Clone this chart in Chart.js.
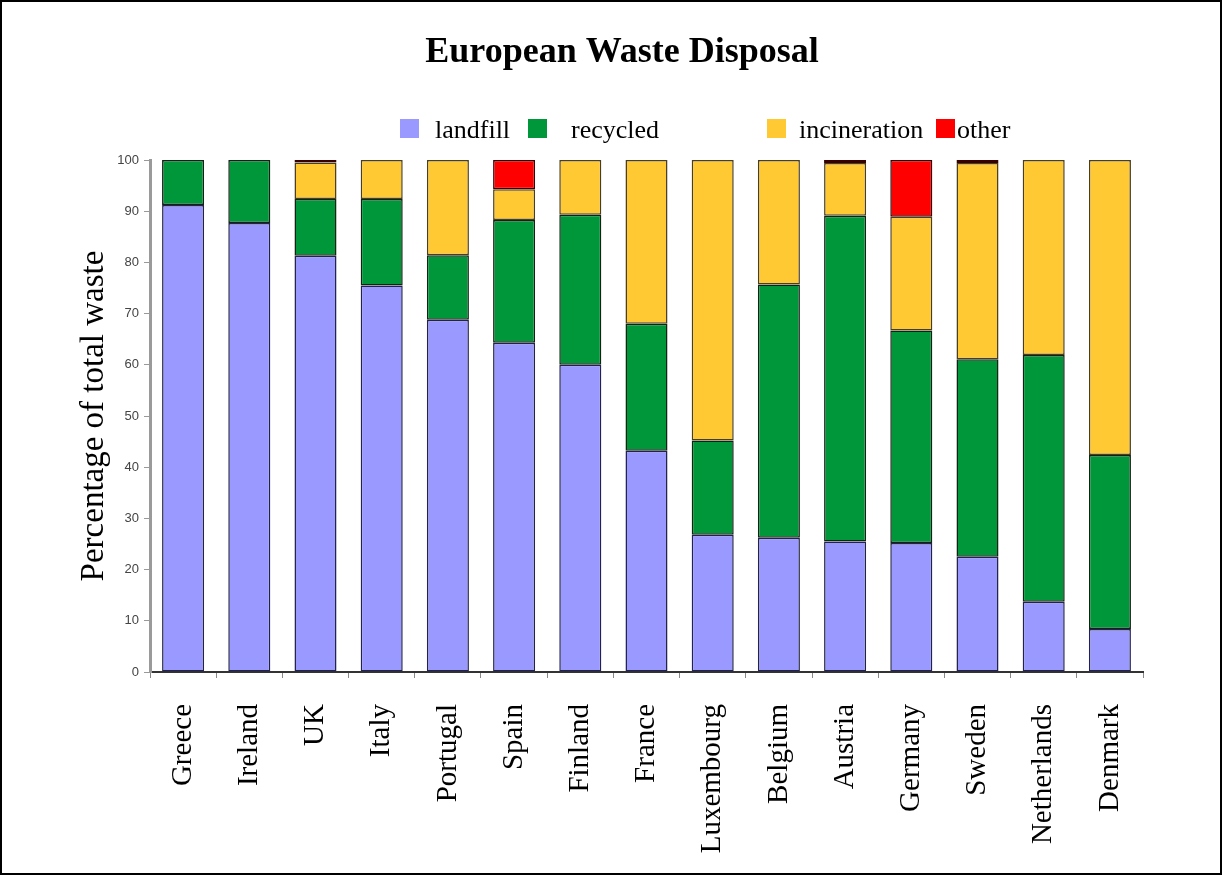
<!DOCTYPE html>
<html>
<head>
<meta charset="utf-8">
<script src="https://cdn.jsdelivr.net/npm/chart.js@4"></script>
<style>
    body { margin: 0; background: #fff; }
    #wrap { width: 1222px; height: 875px; border: 2px solid #000; box-sizing: border-box; }
</style>
</head>
<body>
<div id="wrap"><canvas id="myChart" width="1218" height="871"></canvas></div>
<script>
const countries = ['Greece', 'Ireland', 'UK', 'Italy', 'Portugal', 'Spain', 'Finland', 'France',
    'Luxembourg', 'Belgium', 'Austria', 'Germany', 'Sweden', 'Netherlands', 'Denmark'];
const landfill = [91.2, 87.7, 81.3, 75.5, 68.8, 64.3, 60.0, 43.2, 26.8, 26.2, 25.5, 25.2, 22.5, 13.7, 8.4];
const recycled = [8.8, 12.3, 11.1, 16.9, 12.6, 24.0, 29.3, 24.8, 18.4, 49.5, 63.6, 41.5, 38.6, 48.2, 34.0];
const incineration = [0, 0, 7.1, 7.6, 18.6, 6.0, 10.7, 32.0, 54.8, 24.3, 10.3, 22.2, 38.3, 38.1, 57.6];
const other = [0, 0, 0.5, 0, 0, 5.7, 0, 0, 0, 0, 0.6, 11.1, 0.6, 0, 0];
const yTicks = [0, 10, 20, 30, 40, 50, 60, 70, 80, 90, 100];

const serif = "'Liberation Serif', 'Times New Roman', serif";

// title + legend, drawn by hand because the legend spacing is uneven
const headerPlugin = {
    id: 'header',
    afterDraw(chart) {
        const ctx = chart.ctx;
        ctx.save();
        ctx.fillStyle = '#000';
        ctx.font = 'bold 36px ' + serif;
        ctx.textAlign = 'center';
        ctx.textBaseline = 'alphabetic';
        ctx.fillText('European Waste Disposal', 620, 60);

        const boxX = [398, 526, 765, 934];
        const textX = [433, 569, 797, 955];
        ctx.font = '26px ' + serif;
        ctx.textAlign = 'left';
        chart.data.datasets.forEach((ds, i) => {
            ctx.fillStyle = ds.backgroundColor;
            ctx.fillRect(boxX[i], 117, 19, 19);
            ctx.fillStyle = '#000';
            ctx.fillText(ds.label, textX[i], 136);
        });
        ctx.restore();
    }
};

const ctx = document.getElementById('myChart').getContext('2d');
const myChart = new Chart(ctx, {
    type: 'bar',
    data: {
        labels: countries,
        datasets: [
            { label: 'landfill', data: landfill, backgroundColor: '#9999ff', borderColor: '#22224a' },
            { label: 'recycled', data: recycled, backgroundColor: '#00963a', borderColor: '#142214' },
            { label: 'incineration', data: incineration, backgroundColor: '#ffc934', borderColor: '#4a3e22' },
            { label: 'other', data: other, backgroundColor: '#ff0000', borderColor: '#3a0000' }
        ].map(ds => Object.assign(ds, {
            borderWidth: 1.5,
            borderSkipped: false,
            barPercentage: 0.635,
            categoryPercentage: 1
        }))
    },
    options: {
        responsive: false,
        animation: false,
        layout: { padding: { left: 69, right: 77, top: 158, bottom: 0 } },
        plugins: {
            legend: { display: false },
            title: { display: false },
            tooltip: { enabled: false }
        },
        scales: {
            x: {
                stacked: true,
                grid: { drawOnChartArea: false, drawTicks: true, tickLength: 6, color: '#888', offset: true },
                border: { display: true, color: '#333', width: 2 },
                ticks: {
                    color: '#000',
                    font: { family: serif, size: 29 },
                    minRotation: 90,
                    maxRotation: 90,
                    autoSkip: false,
                    padding: 26
                },
                afterFit(scale) { scale.height = 201; }
            },
            y: {
                stacked: true,
                min: 0,
                max: 100,
                afterBuildTicks(scale) { scale.ticks = yTicks.map(v => ({ value: v })); },
                grid: { drawOnChartArea: false, drawTicks: true, tickLength: 6, color: '#999' },
                border: { display: true, color: '#9a9a9a', width: 3 },
                ticks: {
                    color: '#444',
                    font: { family: "'Liberation Sans', Arial, sans-serif", size: 13 },
                    padding: 5
                },
                title: {
                    display: true,
                    text: 'Percentage of total waste',
                    color: '#000',
                    font: { family: serif, size: 33 },
                    padding: { top: 4, bottom: 4 }
                },
                afterFit(scale) { scale.width = 79; }
            }
        }
    },
    plugins: [headerPlugin]
});
</script>
</body>
</html>
